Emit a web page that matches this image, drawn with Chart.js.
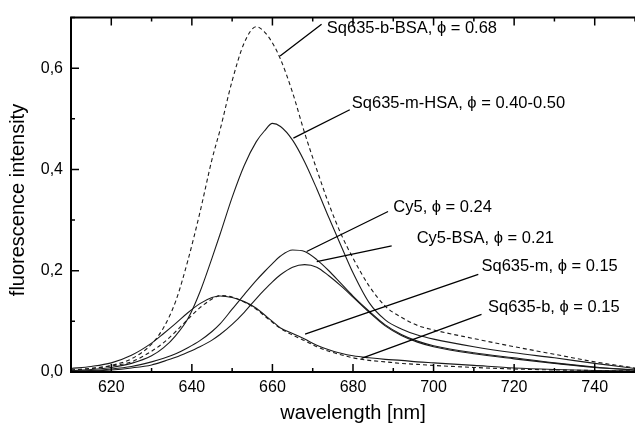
<!DOCTYPE html>
<html>
<head>
<meta charset="utf-8">
<script src="https://cdn.jsdelivr.net/npm/chart.js@4.4.1/dist/chart.umd.min.js"></script>
<style>
  body { margin: 0; background: #fff; }
  #chart { display: block; }
</style>
</head>
<body>
<canvas id="chart" width="635" height="427"></canvas>
<script>
// wavelength grid [nm]
var wavelength = [610, 615, 620, 625, 630, 633, 636, 639, 642, 645, 647, 650, 653, 656, 658, 660, 662,
                  665, 668, 671, 674, 677, 680, 684, 688, 692, 696, 700, 710, 720, 730, 740, 750];

var sq635bBSA = [0.004, 0.007, 0.013, 0.026, 0.055, 0.088, 0.14, 0.22, 0.315, 0.42, 0.478, 0.575, 0.65, 0.682, 0.672, 0.65, 0.618,
                 0.552, 0.472, 0.40, 0.332, 0.273, 0.225, 0.17, 0.13, 0.108, 0.092, 0.083, 0.066, 0.05, 0.035, 0.02, 0.008];
var sq635mHSA = [0.003, 0.005, 0.009, 0.017, 0.032, 0.048, 0.072, 0.105, 0.158, 0.225, 0.272, 0.345, 0.408, 0.455, 0.476, 0.491, 0.485,
                 0.458, 0.415, 0.362, 0.305, 0.25, 0.196, 0.137, 0.103, 0.085, 0.073, 0.065, 0.05, 0.038, 0.028, 0.017, 0.007];
var cy5 = [0.002, 0.003, 0.006, 0.011, 0.02, 0.027, 0.036, 0.048, 0.062, 0.08, 0.095, 0.124, 0.153, 0.181, 0.198, 0.214, 0.229,
           0.241, 0.238, 0.222, 0.2, 0.175, 0.15, 0.12, 0.093, 0.074, 0.061, 0.052, 0.038, 0.028, 0.018, 0.01, 0.004];
var cy5BSA = [0.001, 0.002, 0.004, 0.008, 0.014, 0.021, 0.029, 0.039, 0.05, 0.063, 0.074, 0.094, 0.118, 0.145, 0.162, 0.178, 0.192,
              0.207, 0.212, 0.207, 0.19, 0.17, 0.148, 0.118, 0.091, 0.072, 0.059, 0.05, 0.036, 0.026, 0.017, 0.009, 0.004];
var sq635m = [0.007, 0.011, 0.018, 0.033, 0.057, 0.076, 0.096, 0.117, 0.135, 0.147, 0.15, 0.147, 0.139, 0.126, 0.113, 0.1, 0.087,
              0.076, 0.065, 0.053, 0.044, 0.037, 0.032, 0.028, 0.025, 0.023, 0.02, 0.018, 0.013, 0.008, 0.005, 0.003, 0.002];
var sq635b = [0.004, 0.007, 0.012, 0.02, 0.041, 0.058, 0.08, 0.104, 0.127, 0.144, 0.151, 0.148, 0.138, 0.124, 0.111, 0.098, 0.086,
              0.073, 0.062, 0.05, 0.041, 0.034, 0.028, 0.023, 0.02, 0.017, 0.015, 0.013, 0.009, 0.006, 0.004, 0.003, 0.002];

var xTicks = [620, 640, 660, 680, 700, 720, 740];
var xMinor = [610, 630, 650, 670, 690, 710, 730, 750];
var yTicks = [0, 0.2, 0.4, 0.6];
var yMinor = [0.1, 0.3, 0.5, 0.7];

// curve labels: text, text anchor [nm, value], leader line start and end [nm, value]
var labelText = ['Sq635-b-BSA, \u03d5 = 0.68', 'Sq635-m-HSA, \u03d5 = 0.40-0.50', 'Cy5, \u03d5 = 0.24',
                 'Cy5-BSA, \u03d5 = 0.21', 'Sq635-m, \u03d5 = 0.15', 'Sq635-b, \u03d5 = 0.15'];
var labelAt = [[673.5, 0.678], [679.7, 0.530], [690.0, 0.325], [695.8, 0.263], [711.9, 0.208], [713.5, 0.127]];
var leaderFrom = [[672.2, 0.687], [679.2, 0.518], [688.7, 0.317], [689.6, 0.249], [711.1, 0.193], [711.9, 0.114]];
var leaderTo = [[661.9, 0.624], [665.2, 0.462], [668.5, 0.238], [671.0, 0.218], [668.1, 0.075], [682.1, 0.027]];

var FONT = '"Liberation Sans", Arial, sans-serif';

function series(vals, dashed) {
    return {
        data: wavelength.map(function (w, i) { return {x: w, y: vals[i]}; }),
        borderColor: '#1a1a1a',
        borderWidth: 1.1,
        borderDash: dashed ? [4, 3] : [],
        pointRadius: 0,
        fill: false,
        cubicInterpolationMode: 'monotone'
    };
}

var frame = {
    id: 'frame',
    afterDatasetsDraw: function (chart) {
        var ctx = chart.ctx, a = chart.chartArea;
        var xs = chart.scales.x, ys = chart.scales.y;
        ctx.save();
        ctx.strokeStyle = '#000';
        // ticks pointing inward
        ctx.lineWidth = 1.5;
        ctx.beginPath();
        function xt(v, len) {
            var p = xs.getPixelForValue(v);
            ctx.moveTo(p, a.bottom); ctx.lineTo(p, a.bottom - len);
            ctx.moveTo(p, a.top); ctx.lineTo(p, a.top + len);
        }
        function yt(v, len) {
            var p = ys.getPixelForValue(v);
            ctx.moveTo(a.left, p); ctx.lineTo(a.left + len, p);
        }
        xTicks.forEach(function (v) { xt(v, 8); });
        xMinor.forEach(function (v) { xt(v, 4); });
        yTicks.forEach(function (v) { yt(v, 8); });
        yMinor.forEach(function (v) { yt(v, 4); });
        ctx.stroke();
        // axes box (right side falls at the canvas edge)
        ctx.lineWidth = 2;
        ctx.beginPath();
        ctx.moveTo(a.right, a.top); ctx.lineTo(a.left, a.top);
        ctx.lineTo(a.left, a.bottom); ctx.lineTo(a.right, a.bottom);
        ctx.stroke();

        // leader lines and labels
        ctx.lineWidth = 1.3;
        ctx.beginPath();
        for (var i = 0; i < labelText.length; i++) {
            ctx.moveTo(xs.getPixelForValue(leaderFrom[i][0]), ys.getPixelForValue(leaderFrom[i][1]));
            ctx.lineTo(xs.getPixelForValue(leaderTo[i][0]), ys.getPixelForValue(leaderTo[i][1]));
        }
        ctx.stroke();
        ctx.fillStyle = '#000';
        ctx.font = '16.5px ' + FONT;
        ctx.textAlign = 'left';
        ctx.textBaseline = 'middle';
        for (var j = 0; j < labelText.length; j++) {
            ctx.fillText(labelText[j], xs.getPixelForValue(labelAt[j][0]), ys.getPixelForValue(labelAt[j][1]));
        }

        // axis titles
        ctx.font = '20px ' + FONT;
        ctx.textAlign = 'center';
        ctx.fillText('wavelength [nm]', (a.left + a.right) / 2, 413);
        ctx.translate(18, 200);
        ctx.rotate(-Math.PI / 2);
        ctx.fillText('fluorescence intensity', 0, 0);
        ctx.restore();
    }
};

var ctx = document.getElementById('chart').getContext('2d');
var chart = new Chart(ctx, {
    type: 'line',
    data: {
        datasets: [
            series(sq635bBSA, true),
            series(sq635mHSA, false),
            series(cy5, false),
            series(cy5BSA, false),
            series(sq635m, false),
            series(sq635b, true)
        ]
    },
    options: {
        responsive: false,
        animation: false,
        events: [],
        layout: {padding: {top: 13, right: 0, left: 0, bottom: 0}},
        plugins: {legend: {display: false}, tooltip: {enabled: false}},
        scales: {
            x: {
                type: 'linear',
                min: 610,
                max: 750,
                afterFit: function (s) { s.height = 55; },
                afterBuildTicks: function (s) { s.ticks = xTicks.map(function (v) { return {value: v}; }); },
                grid: {display: false, drawTicks: false},
                border: {display: false},
                ticks: {
                    color: '#000',
                    padding: 6,
                    maxRotation: 0,
                    font: {family: FONT, size: 16},
                    callback: function (v) { return String(v); }
                }
            },
            y: {
                min: 0,
                max: 0.7,
                afterFit: function (s) { s.width = 71; },
                afterBuildTicks: function (s) { s.ticks = yTicks.map(function (v) { return {value: v}; }); },
                grid: {display: false, drawTicks: false},
                border: {display: false},
                ticks: {
                    color: '#000',
                    padding: 8,
                    font: {family: FONT, size: 16},
                    callback: function (v) { return v.toFixed(1).replace('.', ','); }
                }
            }
        }
    },
    plugins: [frame]
});
</script>
</body>
</html>
